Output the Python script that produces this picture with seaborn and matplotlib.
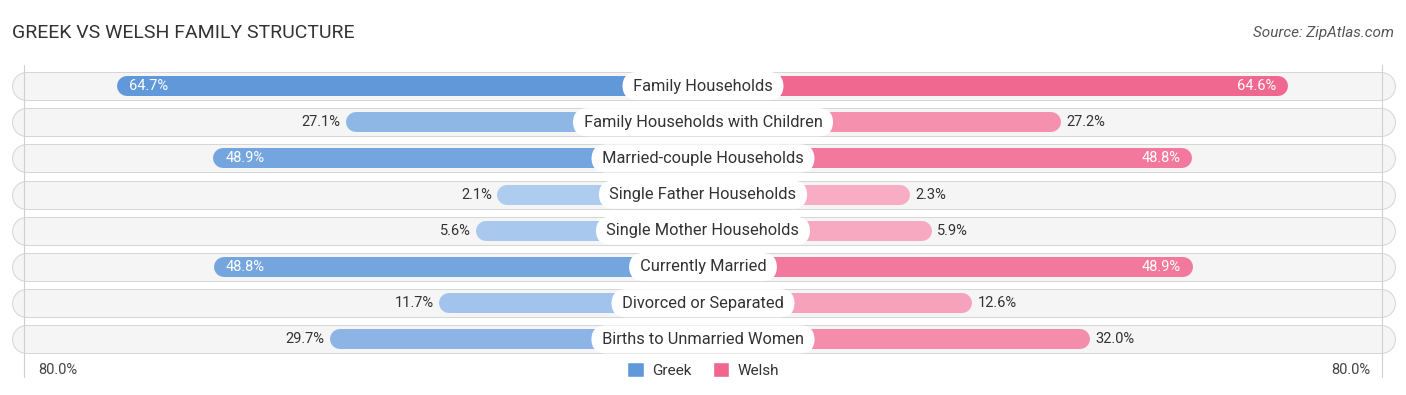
import matplotlib
matplotlib.use('Agg')
import matplotlib.pyplot as plt
from matplotlib.patches import Patch
import seaborn as sns
import numpy as np

### DATA
categories = ['Family Households', 'Family Households with Children', 'Married-couple Households',
              'Single Father Households', 'Single Mother Households', 'Currently Married',
              'Divorced or Separated', 'Births to Unmarried Women']
greek = [64.7, 27.1, 48.9, 2.1, 5.6, 48.8, 11.7, 29.7]
welsh = [64.6, 27.2, 48.8, 2.3, 5.9, 48.9, 12.6, 32.0]
axis_max = 80.0

### LAYOUT (pixels)
W, H = 1406, 395
cx = 703            # center of chart
s = 6.07            # px per percent
off = 193 / s       # bar offset hidden behind the center label
row0, row_step = 86.0, 36.2
bar_px, bg_px = 20, 27

sns.set_theme(style='white')
plt.rcParams['font.family'] = ['Roboto', 'DejaVu Sans']

fig = plt.figure(figsize=(W / 100, H / 100), dpi=100)
ax = fig.add_axes([0, 0, 1, 1])
half = cx / s
ax.set_xlim(-half, half)
ax.set_ylim((H - row0) / row_step, -row0 / row_step)
ax.axis('off')

pt = 72 / 100  # px -> points
y = np.arange(len(categories))

# color intensity follows the value
blue_light, blue_dark = '#b0cdef', '#6198da'
pink_light, pink_dark = '#f8b0c6', '#f0668f'
blues = sns.blend_palette([blue_light, blue_dark], n_colors=101)
pinks = sns.blend_palette([pink_light, pink_dark], n_colors=101)

def pick(pal, v):
    return pal[int(round(min(v / 65.0, 1.0) * 100))]

# row backgrounds
bg_edge = (cx - 12 - bg_px / 2) / s
ax.hlines(y, -bg_edge, bg_edge, colors='#d6d6d6', linewidth=(bg_px + 2) * pt,
          capstyle='round', zorder=1)
ax.hlines(y, -bg_edge, bg_edge, colors='#f5f5f5', linewidth=bg_px * pt,
          capstyle='round', zorder=1.1)

# faint 80% gridlines
for gx in (-(off + axis_max), off + axis_max):
    ax.plot([gx, gx], [-0.58, 8.05], color='#d0d0d0', lw=0.8, zorder=1.2)

r = bar_px / 2 / s
g_end = [-(off + v) for v in greek]
w_end = [off + v for v in welsh]
ax.hlines(y, [e + r for e in g_end], 0, colors=[pick(blues, v) for v in greek],
          linewidth=bar_px * pt, capstyle='round', zorder=2)
ax.hlines(y, 0, [e - r for e in w_end], colors=[pick(pinks, v) for v in welsh],
          linewidth=bar_px * pt, capstyle='round', zorder=2)

# value labels
fs_val = 10.5
for i in range(len(categories)):
    g, w = greek[i], welsh[i]
    if g >= 40:
        ax.text(g_end[i] + 12 / s, i, f'{g:.1f}%', ha='left', va='center', color='white',
                fontsize=fs_val, zorder=4)
    else:
        ax.text(g_end[i] - 5 / s, i, f'{g:.1f}%', ha='right', va='center', color='#333333',
                fontsize=fs_val, zorder=4)
    if w >= 40:
        ax.text(w_end[i] - 12 / s, i, f'{w:.1f}%', ha='right', va='center', color='white',
                fontsize=fs_val, zorder=4)
    else:
        ax.text(w_end[i] + 5 / s, i, f'{w:.1f}%', ha='left', va='center', color='#333333',
                fontsize=fs_val, zorder=4)
    # center label, a space each side widens the pill
    ax.text(0, i, f' {categories[i]} ', ha='center', va='center', color='#333333', fontsize=11.8,
            zorder=5, bbox=dict(boxstyle='round,pad=0.4,rounding_size=0.9', fc='white', ec='none'))

# title + source
fig.text(12 / W, 1 - 33 / H, 'GREEK VS WELSH FAMILY STRUCTURE', ha='left', va='center',
         fontsize=14, color='#333333')
fig.text(1394 / W, 1 - 33 / H, 'Source: ZipAtlas.com', ha='right', va='center',
         fontsize=11, color='#555555', style='italic')

# axis end labels
fig.text(38 / W, 1 - 370 / H, f'{axis_max:.1f}%', ha='left', va='center', fontsize=10.5, color='#444444')
fig.text(1370 / W, 1 - 370 / H, f'{axis_max:.1f}%', ha='right', va='center', fontsize=10.5, color='#444444')

# legend
handles = [Patch(facecolor=blue_dark, label='Greek'), Patch(facecolor=pink_dark, label='Welsh')]
fig.legend(handles=handles, loc='center', bbox_to_anchor=(cx / W, 1 - 370 / H), ncol=2,
           frameon=False, fontsize=11, handlelength=1.1, handleheight=1.1,
           handletextpad=0.5, columnspacing=1.4, labelcolor='#333333')

fig.savefig('out.png', dpi=100)
